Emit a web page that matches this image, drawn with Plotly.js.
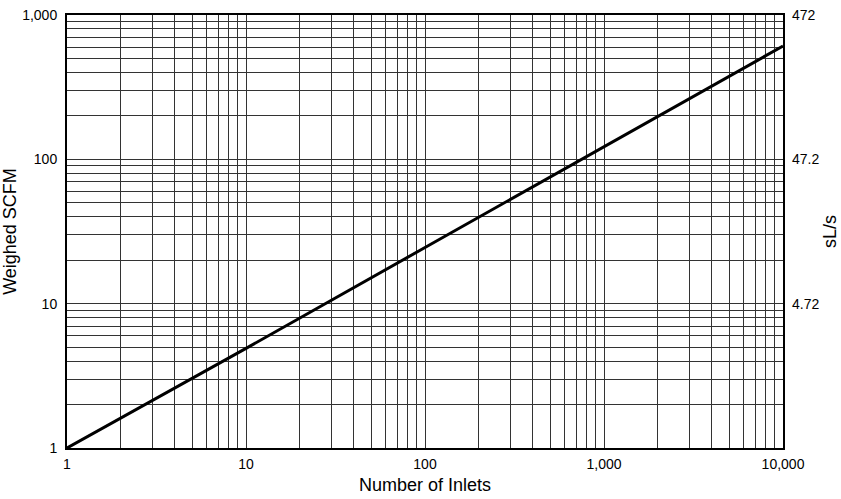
<!DOCTYPE html>
<html><head><meta charset="utf-8">
<script src="https://cdn.plot.ly/plotly-3.0.1.min.js"></script>
<style>html,body{margin:0;padding:0;background:#fff}#chart{width:841px;height:499px}</style>
</head><body><div id="chart"></div>
<script>
// Data
var inlets = [1, 10, 100, 1000, 10000];
var weighedScfm = [1, 4.9, 24.5, 122, 610];
var xMajorTicks = [1, 10, 100, 1000, 10000];
var xMajorLabels = ['1', '10', '100', '1,000', '10,000'];
var yMajorTicks = [1, 10, 100, 1000];
var yMajorLabels = ['1', '10', '100', '1,000'];
var y2Ticks = [10, 100, 1000];
var y2Labels = ['4.72', '47.2', '472'];

function logTicks(majors, labels) {
  var vals = [], text = [];
  for (var i = 0; i < majors.length; i++) {
    vals.push(majors[i]); text.push(labels[i]);
    if (i < majors.length - 1) {
      for (var k = 2; k <= 9; k++) { vals.push(majors[i] * k); text.push(''); }
    }
  }
  return {vals: vals, text: text};
}
var xt = logTicks(xMajorTicks, xMajorLabels);
var yt = logTicks(yMajorTicks, yMajorLabels);

var font = {family: 'Liberation Sans, Arial, Helvetica, sans-serif', color: '#000'};

var data = [{
  x: inlets, y: weighedScfm, type: 'scatter', mode: 'lines',
  line: {color: '#000', width: 3}, hoverinfo: 'skip', showlegend: false
}, {
  x: [1], y: [1], yaxis: 'y2', type: 'scatter', mode: 'none', showlegend: false, hoverinfo: 'skip'
}];

var layout = {
  width: 841, height: 499,
  margin: {l: 67, r: 58, t: 15, b: 51},
  paper_bgcolor: '#fff', plot_bgcolor: '#fff',
  font: Object.assign({size: 14}, font),
  xaxis: {
    type: 'log', range: [0, 4], tickmode: 'array', tickvals: xt.vals, ticktext: xt.text,
    showgrid: true, gridcolor: '#333', gridwidth: 1, zeroline: false,
    showline: true, linecolor: '#000', linewidth: 2, mirror: true, ticks: '',
    tickfont: {size: 14}, ticklabelstandoff: 2,
    title: {text: 'Number of Inlets', font: {size: 18}, standoff: 8}
  },
  yaxis: {
    type: 'log', range: [0, 3], tickmode: 'array', tickvals: yt.vals, ticktext: yt.text,
    showgrid: true, gridcolor: '#333', gridwidth: 1, zeroline: false,
    showline: true, linecolor: '#000', linewidth: 2, mirror: true, ticks: '',
    tickfont: {size: 14}, ticklabelstandoff: 5,
    title: {text: 'Weighed SCFM', font: {size: 18}, standoff: 2}
  },
  yaxis2: {
    type: 'log', range: [0, 3], overlaying: 'y', side: 'right',
    tickmode: 'array', tickvals: y2Ticks, ticktext: y2Labels,
    showgrid: false, zeroline: false, showline: false, ticks: '',
    tickfont: {size: 14}, ticklabelstandoff: 8,
    title: {text: 'sL/s', font: {size: 18}, standoff: 4}
  }
};
Plotly.newPlot('chart', data, layout, {staticPlot: true, displayModeBar: false});
</script></body></html>
